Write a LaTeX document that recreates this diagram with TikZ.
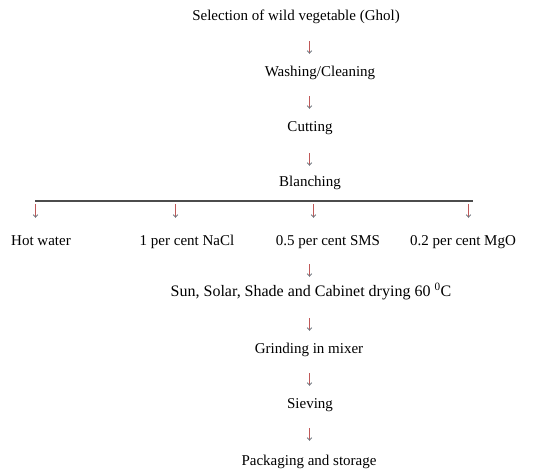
\documentclass[tikz,border=0pt]{standalone}
\usepackage{fontspec}
\setmainfont{Liberation Serif}
\usetikzlibrary{arrows.meta}
\definecolor{arrred}{HTML}{C05858}
\definecolor{tipgray}{HTML}{707880}
\tikzset{
  lbl/.style={inner sep=0pt, text height=10pt, text depth=3pt, font=\fontsize{15}{17}\selectfont, text=black},
  arr/.style 2 args={draw=arrred, line width=1pt, -{Straight Barb[length=2.5pt,width=4.5pt,color=tipgray,line width=0.8pt]}, shorten <=#1, shorten >=#2}
}
\begin{document}
\begin{tikzpicture}[x=1pt,y=-1pt]
\useasboundingbox (0,0) rectangle (547,469);
\coordinate (col) at (309.5,0);
\node[lbl] (sel) at (296,17) {Selection of wild vegetable (Ghol)};
\node[lbl] (wash) at (320,73) {Washing/Cleaning};
\node[lbl] (cut) at (310,128) {Cutting};
\node[lbl] (blanch) at (310,183) {Blanching};
\coordinate (hl) at (35,201);
\coordinate (hr) at (473,201);
\draw[black!70, line width=1.2pt] (hl) -- (hr);
\coordinate (h1) at (35.5,201);
\coordinate (h2) at (175.5,201);
\coordinate (h3) at (313.5,201);
\coordinate (h4) at (468.5,201);
\node[lbl] (hot) at (41,242) {Hot water};
\node[lbl] (nacl) at (187,242) {1 per cent NaCl};
\node[lbl] (sms) at (328,242) {0.5 per cent SMS};
\node[lbl] (mgo) at (463,242) {0.2 per cent MgO};
\node[lbl, font=\fontsize{16}{18}\selectfont] (sun) at (311,293) {Sun, Solar, Shade and Cabinet drying 60 \textsuperscript{0}C};
\node[lbl] (grind) at (309,350) {Grinding in mixer};
\node[lbl] (sieve) at (310,405) {Sieving};
\node[lbl] (pack) at (309,462) {Packaging and storage};
\draw[arr={17.5pt}{12.5pt}] (sel.south -| col) -- (wash.north -| col);
\draw[arr={16.5pt}{12.5pt}] (wash.south -| col) -- (cut.north -| col);
\draw[arr={18.5pt}{10.5pt}] (cut.south -| col) -- (blanch.north -| col);
\draw[arr={3pt}{17.5pt}] (h1) -- (hot.north -| h1);
\draw[arr={3pt}{17.5pt}] (h2) -- (nacl.north -| h2);
\draw[arr={3pt}{17.5pt}] (h3) -- (sms.north -| h3);
\draw[arr={3pt}{17.5pt}] (h4) -- (mgo.north -| h4);
\draw[arr={15.5pt}{9.5pt}] (sms.south -| col) -- (sun.north -| col);
\draw[arr={18.5pt}{12.5pt}] (sun.south -| col) -- (grind.north -| col);
\draw[arr={16.5pt}{12.5pt}] (grind.south -| col) -- (sieve.north -| col);
\draw[arr={16.5pt}{14.5pt}] (sieve.south -| col) -- (pack.north -| col);
\end{tikzpicture}
\end{document}
